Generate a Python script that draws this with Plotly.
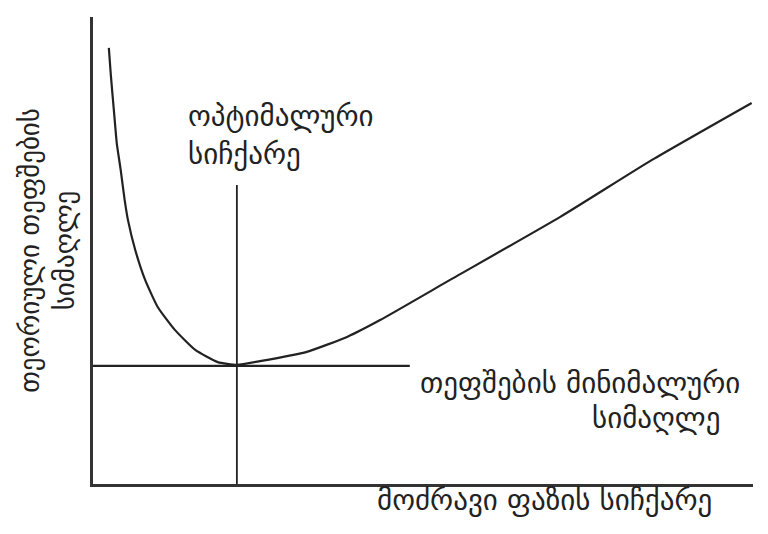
import plotly.graph_objects as go

# curve (arbitrary units, 0-10 on both axes)
speed = [0.24, 0.27, 0.32, 0.36, 0.42, 0.48, 0.53, 0.64, 0.79, 0.98, 1.24, 1.55, 1.89,
         2.18, 2.53, 3.24, 3.85, 4.35, 5.41, 7.08, 8.47, 9.98]
plate_height = [9.34, 8.76, 7.94, 7.30, 6.72, 6.08, 5.65, 5.01, 4.37, 3.79, 3.30, 2.87, 2.61,
                2.55, 2.63, 2.83, 3.15, 3.51, 4.37, 5.72, 6.94, 8.16]

# optimum speed marker line and minimum plate height line
opt_x = [2.18, 2.18]
opt_y = [0, 6.4]
min_x = [0, 4.8]
min_y = [2.53, 2.53]

ink = '#222222'
font_name = 'DejaVu Sans'

fig = go.Figure()
fig.add_trace(go.Scatter(x=speed, y=plate_height, mode='lines',
                         line=dict(color=ink, width=2.2, shape='spline', smoothing=0.5)))
fig.add_trace(go.Scatter(x=opt_x, y=opt_y, mode='lines', line=dict(color=ink, width=1.8)))
fig.add_trace(go.Scatter(x=min_x, y=min_y, mode='lines', line=dict(color=ink, width=2.2)))

fig.add_annotation(x=1.41, y=7.47, xref='x', yref='y', text='ოპტიმალური<br>სიჩქარე',
                   showarrow=False, xanchor='left', align='left')
fig.add_annotation(x=4.92, y=2.16, xref='x', yref='y', text='თეფშების მინიმალური',
                   showarrow=False, xanchor='left')
fig.add_annotation(x=8.53, y=1.41, xref='x', yref='y', text='სიმაღლე',
                   showarrow=False, xanchor='center')
fig.add_annotation(x=0.427, y=-0.075, xref='paper', yref='paper', text='მოძრავი ფაზის სიჩქარე',
                   showarrow=False, xanchor='left')

fig.update_annotations(font=dict(family=font_name, size=29, color=ink))

fig.add_annotation(x=-0.07, y=0.501, xref='paper', yref='paper',
                   text='თეორიული თეფშების<br>სიმაღლე', textangle=-90, showarrow=False,
                   xanchor='center', yanchor='middle',
                   font=dict(family=font_name, size=27, color=ink))

fig.update_xaxes(range=[0, 10], showline=True, linecolor='#333333', linewidth=2.5,
                 showgrid=False, zeroline=False, showticklabels=False, ticks='')
fig.update_yaxes(range=[0, 10], showline=True, linecolor='#333333', linewidth=2.5,
                 showgrid=False, zeroline=False, showticklabels=False, ticks='')

# page body adds 8px, margins compensate for it
fig.update_layout(width=768, height=534, showlegend=False,
                  margin=dict(l=85, r=23, t=9, b=58),
                  plot_bgcolor='white', paper_bgcolor='white')

fig.write_html("out.html")
